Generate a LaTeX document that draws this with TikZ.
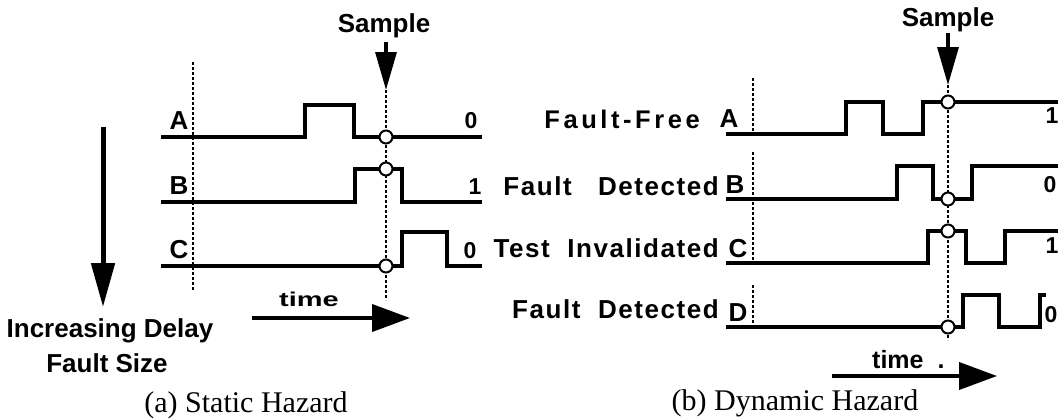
\documentclass[tikz,border=0pt]{standalone}
\usepackage{fontspec}
\usepackage{graphicx}
\setmainfont{Liberation Serif}
\setsansfont{Liberation Sans}
\newfontfamily\trackedsf[LetterSpace=6]{Liberation Sans}
\newfontfamily\widesf[LetterSpace=14]{Liberation Sans}
\usetikzlibrary{arrows.meta}
\begin{document}
\begin{tikzpicture}[x=1pt,y=-1pt,
  mywave/.style={line width=3.2pt},
  mydot/.style={line width=1.4pt, dash pattern=on 3pt off 2pt},
  mysmp/.style={circle, draw, fill=white, line width=2pt, inner sep=0pt, minimum size=13pt},
  mylbl/.style={anchor=base, inner sep=0pt, font=\sffamily\bfseries\fontsize{26}{26}\selectfont},
  mydesc/.style={anchor=base east, inner sep=0pt, font=\trackedsf\bfseries\fontsize{26}{26}\selectfont},
  myval/.style={anchor=base, inner sep=0pt, font=\sffamily\bfseries\fontsize{23}{23}\selectfont},
  mycap/.style={anchor=base, inner sep=0pt, font=\rmfamily\fontsize{30}{30}\selectfont},
  myarr/.style={line width=3.8pt, -{Triangle[length=38pt,width=27pt]}},
  mysarr/.style={line width=3.2pt, -{Triangle[length=38pt,width=21pt]}}]
  \useasboundingbox (0,0) rectangle (1061,418);

  % (a) static hazard
  \draw[mydot] (193,62) -- (193,290);
  \draw[mydot] (386,90) -- (386,300);

  \draw[mywave] (161,137) -- (305,137) -- (305,105) -- (354,105) -- (354,137) -- (482,137);
  \draw[mywave] (161,202) -- (355,202) -- (355,169) -- (402,169) -- (402,202) -- (482,202);
  \draw[mywave] (161,266) -- (402,266) -- (402,232) -- (447,232) -- (447,266) -- (482,266);

  \node[mysmp] (sa1) at (386,137) {};
  \node[mysmp] (sa2) at (386,169) {};
  \node[mysmp] (sa3) at (386,266) {};

  \node[mylbl] (la) at (179,129) {A};
  \node[mylbl] (lb) at (179,194) {B};
  \node[mylbl] (lc) at (179,258) {C};
  \node[myval] (va) at (471,128) {0};
  \node[myval] (vb) at (475,194) {1};
  \node[myval] (vc) at (470,258) {0};

  \node[mylbl] (smpa) at (384,32) {Sample};
  \coordinate (sa0) at (386,42);
  \coordinate (sat) at (386,90);
  \draw[mysarr] (sa0) -- (sat);

  \coordinate (dl0) at (103,127);
  \coordinate (dl1) at (103,307);
  \draw[line width=5pt, -{Triangle[length=44pt,width=23pt]}] (dl0) -- (dl1);
  \node[mylbl] (inc) at (110,337) {Increasing Delay};
  \node[mylbl] (fsz) at (107,372) {Fault Size};

  \node[anchor=base, inner sep=0pt, font=\sffamily\bfseries\fontsize{20}{20}\selectfont] (ta) at (309,306) {\scalebox{1.45}[1]{time}};
  \coordinate (ta0) at (252,318);
  \coordinate (ta1) at (410,318);
  \draw[myarr] (ta0) -- (ta1);

  \node[mycap] (capa) at (246,412) {(a) Static Hazard};

  % (b) dynamic hazard
  \draw[mydot] (753,78) -- (753,132);
  \draw[mydot] (753,152) -- (753,260);
  \draw[mydot] (753,285) -- (753,325);
  \draw[mydot] (948,85) -- (948,340);

  \draw[mywave] (726,134) -- (846,134) -- (846,102) -- (883,102) -- (883,134) -- (923,134) -- (923,102) -- (1058,102);
  \draw[mywave] (726,199) -- (897,199) -- (897,166) -- (933,166) -- (933,199) -- (972,199) -- (972,166) -- (1058,166);
  \draw[mywave] (726,263) -- (928,263) -- (928,231) -- (966,231) -- (966,263) -- (1005,263) -- (1005,231) -- (1058,231);
  \draw[mywave] (726,327) -- (963,327) -- (963,295) -- (999,295) -- (999,327) -- (1040,327) -- (1040,295) -- (1046,295);

  \node[mysmp] (sb1) at (948,102) {};
  \node[mysmp] (sb2) at (948,199) {};
  \node[mysmp] (sb3) at (948,231) {};
  \node[mysmp] (sb4) at (948,327) {};

  \node[mylbl] (ra) at (729,127) {A};
  \node[mylbl] (rb) at (735,193) {B};
  \node[mylbl] (rc) at (738,257) {C};
  \node[mylbl] (rd) at (738,321) {D};
  \node[myval] (wa) at (1052,123) {1};
  \node[myval] (wb) at (1050,192) {0};
  \node[myval] (wc) at (1052,253) {1};
  \node[myval] (wd) at (1051,322) {0};

  \node[mydesc, font=\widesf\bfseries\fontsize{25.5}{25.5}\selectfont] (da) at (700,128) {Fault-Free};
  \node[mydesc] (db) at (719,195) {Fault\ \ \ Detected};
  \node[mydesc] (dc) at (719,257) {Test\ \ Invalidated};
  \node[mydesc] (dd) at (719,318) {Fault\ \ Detected};

  \node[mylbl] (smpb) at (948,26) {Sample};
  \coordinate (sb0) at (948,33);
  \coordinate (sbt) at (948,85);
  \draw[mysarr] (sb0) -- (sbt);

  \node[anchor=base west, inner sep=0pt, font=\sffamily\bfseries\fontsize{25}{25}\selectfont] (tb) at (872,368) {time\hspace{14pt}.};
  \coordinate (tb0) at (832,376);
  \coordinate (tb1) at (997,376);
  \draw[myarr] (tb0) -- (tb1);

  \node[mycap] (capb) at (795,410) {(b) Dynamic Hazard};
\end{tikzpicture}
\end{document}
